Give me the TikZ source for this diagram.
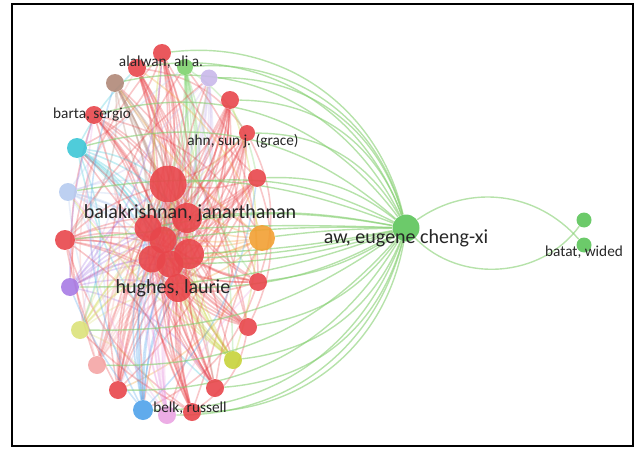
\documentclass[tikz,border=0pt]{standalone}
\usepackage{fontspec}
\setmainfont{Carlito}
\usetikzlibrary{positioning}
\definecolor{nred}{HTML}{E8464B}
\definecolor{ngreen}{HTML}{7ED36E}
\definecolor{nlav}{HTML}{C9B8EA}
\definecolor{nbrown}{HTML}{B08878}
\definecolor{ncyan}{HTML}{3CC6D6}
\definecolor{nlblue}{HTML}{B6CBEF}
\definecolor{norange}{HTML}{F2A033}
\definecolor{npurple}{HTML}{A77BE4}
\definecolor{nyellow}{HTML}{DCE27A}
\definecolor{npink}{HTML}{F4A5A5}
\definecolor{nolive}{HTML}{C6D33A}
\definecolor{nblue}{HTML}{4FA2EA}
\definecolor{nviolet}{HTML}{EAA4E2}
\definecolor{awgreen}{HTML}{5CC45A}
\definecolor{egreen}{HTML}{86CF72}
\definecolor{labelc}{HTML}{262626}
\pgfdeclarelayer{edges}
\pgfsetlayers{edges,main}
\tikzset{
  bubble/.style={circle, inner sep=0pt, draw=none, fill opacity=0.9},
  link/.style={line width=0.9pt, draw opacity=0.3},
  glink/.style={line width=0.8pt, draw=egreen, draw opacity=0.6},
  lbl/.style={font=\fontsize{8.7}{10}\selectfont, text=labelc, inner sep=0pt},
  biglbl/.style={font=\fontsize{11.4}{13}\selectfont, text=labelc, inner sep=0pt},
  frame/.style={line width=1.2pt, draw=black}}

\begin{document}
\begin{tikzpicture}[x=0.02cm, y=0.02cm]
  \useasboundingbox (0,0) rectangle (644,-449);
  \draw[frame] (12,-4) rectangle (633,-446);
  % ---- the red core of the cluster
  \foreach \n/\x/\y/\d in {1/168/184/7.4, 2/187/218/6.0, 3/148/228/5.4,
      4/163/240/5.4, 5/189/254/6.0, 6/152/259/5.4, 7/170/264/5.4, 8/178/288/5.6}
    \node[bubble, fill=nred, minimum size=\d mm] (c\n) at (\x,-\y) {};
  % ---- the ring of co-authors round it
  \foreach \n/\x/\y/\c/\d in {1/137/68/nred/3.6, 2/162/53/nred/3.6,
      3/185/67/ngreen/3.2, 4/209/78/nlav/3.4, 5/115/83/nbrown/3.6,
      6/94/115/nred/3.6, 7/230/100/nred/3.6, 8/247/133/nred/3.2,
      9/77/148/ncyan/4.0, 10/257/178/nred/3.6, 11/68/192/nlblue/3.6,
      12/65/240/nred/4.0, 13/262/238/norange/5.2, 14/70/287/npurple/3.6,
      15/258/282/nred/3.6, 16/80/330/nyellow/3.6, 17/248/327/nred/3.6,
      18/97/365/npink/3.6, 19/233/360/nolive/3.6, 20/118/390/nred/3.6,
      21/215/388/nred/3.6, 22/143/410/nblue/4.0, 23/167/415/nviolet/3.6,
      24/192/412/nred/3.6}
    \node[bubble, fill=\c, minimum size=\d mm] (r\n) at (\x,-\y) {};
  % ---- aw and batat on the right
  \node[bubble, fill=awgreen, minimum size=5.4mm] (aw) at (406,-228) {};
  \node[bubble, fill=awgreen, minimum size=3.0mm] (bt1) at (584,-220) {};
  \node[bubble, fill=awgreen, minimum size=3.0mm] (bt2) at (584,-245) {};
  % ---- links, under the bubbles
  \begin{pgfonlayer}{edges}
    \foreach \n/\c in {1/nred, 2/nred, 3/ngreen, 4/nlav, 5/nbrown, 6/nred,
        7/nred, 8/nred, 9/ncyan, 10/nred, 11/nlblue, 12/nred, 13/norange,
        14/npurple, 15/nred, 16/nyellow, 17/nred, 18/npink, 19/nolive,
        20/nred, 21/nred, 22/nblue, 23/nviolet, 24/nred} {
      \foreach \j in {1,...,8}
        \draw[link, draw=\c] (r\n) to[bend left=12] (c\j);
      \pgfmathtruncatemacro\ma{mod(\n+6,24)+1}
      \pgfmathtruncatemacro\mb{mod(\n+11,24)+1}
      \pgfmathtruncatemacro\mc{mod(\n+15,24)+1}
      \draw[link, draw=\c] (r\n) to[bend left=22] (r\ma);
      \draw[link, draw=\c] (r\n) to[bend right=18] (r\mb);
      \draw[link, draw=\c] (r\n) to[bend left=8] (r\mc);
    }
    \foreach \j in {2,...,8}
      \draw[link, draw=nred] (c1) to[bend left=10] (c\j);
    % aw reaches every author of the cluster
    \foreach \n/\g in {1/-40, 2/-42, 3/-40, 4/-38, 5/-38, 6/-34, 7/-35, 8/-30,
        9/-28, 10/-20, 11/-15, 12/-4, 13/-3, 14/10, 15/12, 16/18, 17/22,
        18/25, 19/30, 20/30, 21/35, 22/35, 23/38, 24/40}
      \draw[glink] (aw) to[bend left=\g] (r\n);
    \foreach \j/\g in {1/-16, 2/-8, 3/-10, 4/-4, 5/4, 6/6, 7/8, 8/14}
      \draw[glink] (aw) to[bend left=\g] (c\j);
    \draw[glink] (aw) to[bend left=42] (bt2);
    \draw[glink] (aw) to[bend right=50] (bt1);
  \end{pgfonlayer}
  % ---- labels
  \node[lbl] (l-alalwan) at (161,-62) {alalwan, ali a.};
  \node[lbl] (l-barta) at (92,-115) {barta, sergio};
  \node[lbl] (l-ahn) at (243,-141) {ahn, sun j. (grace)};
  \node[biglbl] (l-bala) at (190,-213) {balakrishnan, janarthanan};
  \node[biglbl] (l-hughes) at (173,-288) {hughes, laurie};
  \node[lbl] (l-belk) at (190,-408) {belk, russell};
  \node[biglbl] (l-aw) at (406,-238) {aw, eugene cheng-xi};
  \node[lbl] (l-batat) at (584,-252) {batat, wided};
\end{tikzpicture}
\end{document}
